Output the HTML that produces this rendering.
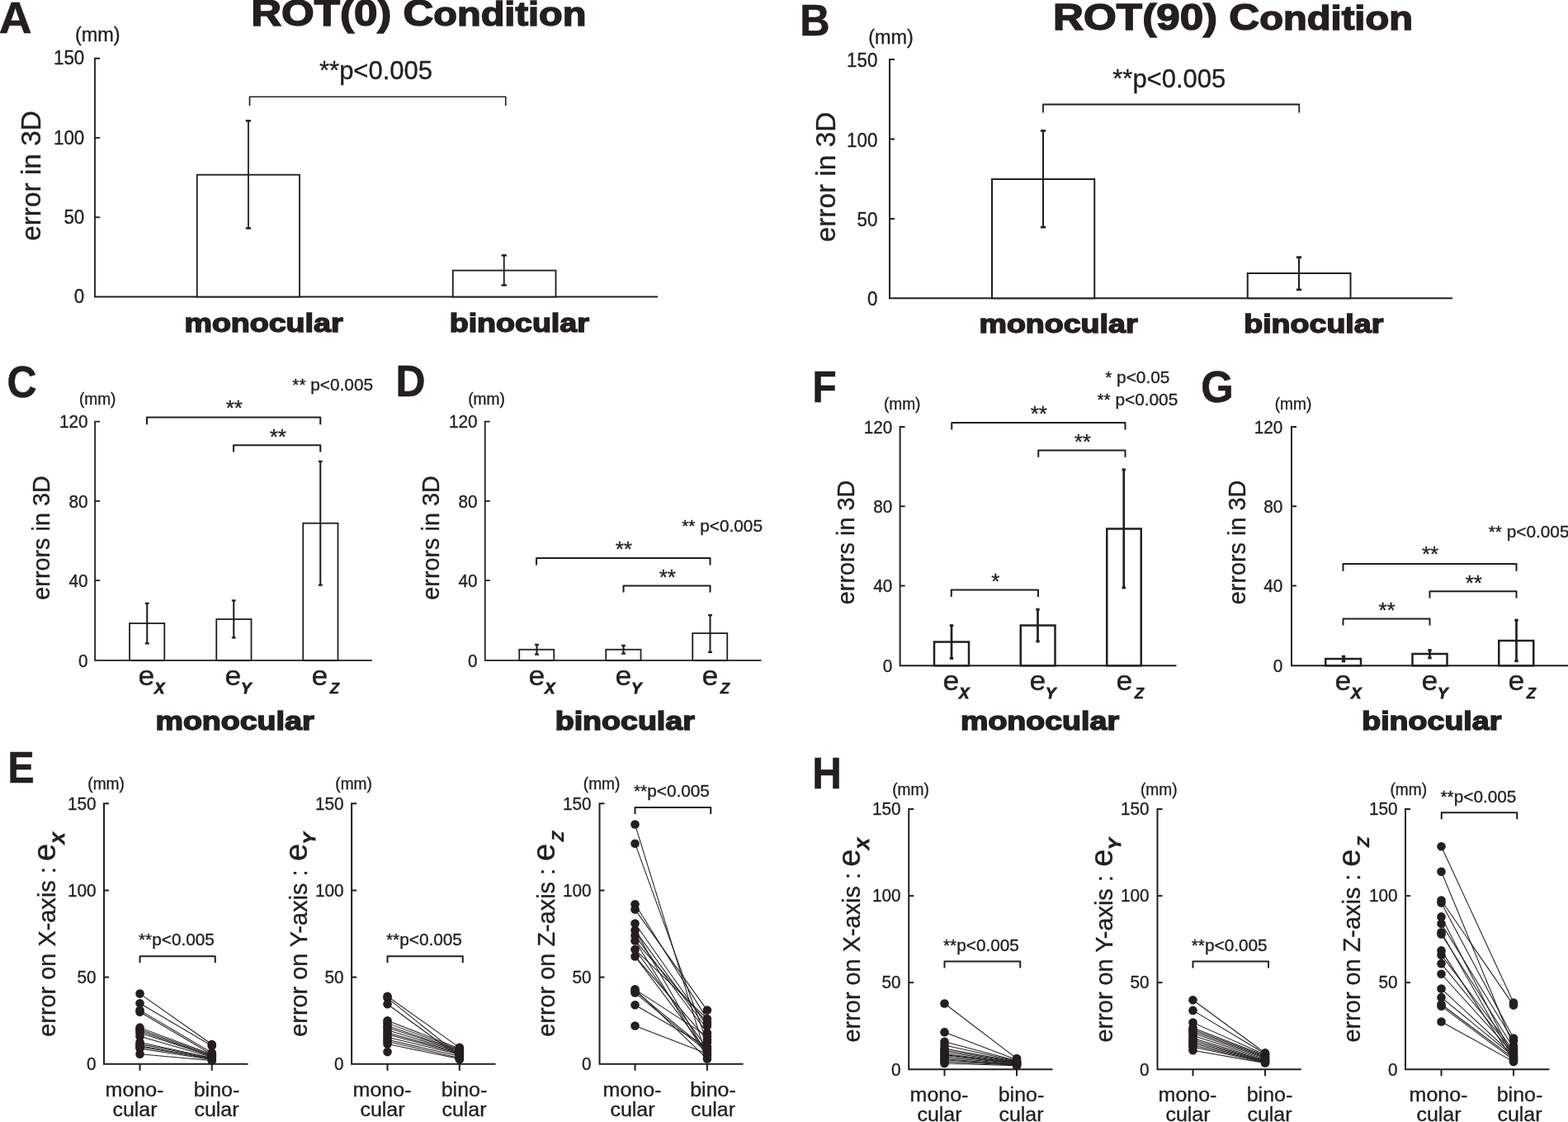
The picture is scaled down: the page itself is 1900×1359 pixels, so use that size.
<!DOCTYPE html>
<html lang="en">
<head>
<meta charset="utf-8">
<title>Figure</title>
<style>
html,body{margin:0;padding:0;background:#fff;}
body{width:1900px;height:1359px;overflow:hidden;}
svg{display:block;}
svg text{font-family:"Liberation Sans",sans-serif;fill:#231f20;stroke:#231f20;stroke-width:0.35px;}
svg .b{font-weight:bold;stroke-width:0.6px;}
svg .hv{font-weight:bold;stroke-width:1.5px;stroke-linejoin:miter;paint-order:stroke fill;}
svg line,svg path,svg rect{stroke:#231f20;stroke-linecap:butt;stroke-linejoin:miter;}
svg .sb{font-weight:bold;font-style:italic;}
svg .dot{fill:#231f20;stroke:none;}
</style>
</head>
<body>
<svg width="1900" height="1359" viewBox="0 0 1900 1359">
<path d="M121.00 70.75 L115.00 70.75 L115.00 359.50 L797.00 359.50" stroke-width="1.85" fill="none"/>
<line x1="115.00" y1="166.90" x2="121.00" y2="166.90" stroke-width="1.85"/>
<line x1="115.00" y1="263.20" x2="121.00" y2="263.20" stroke-width="1.85"/>
<text transform="translate(102.20 78.35) scale(0.95 1)" font-size="23.5" text-anchor="end">150</text>
<text transform="translate(102.20 174.50) scale(0.95 1)" font-size="23.5" text-anchor="end">100</text>
<text transform="translate(102.20 270.80) scale(0.95 1)" font-size="23.5" text-anchor="end">50</text>
<text transform="translate(102.20 367.10) scale(0.95 1)" font-size="23.5" text-anchor="end">0</text>
<rect x="238.75" y="211.70" width="124.25" height="147.80" fill="#fff" stroke-width="1.85"/>
<rect x="548.75" y="327.60" width="124.75" height="31.90" fill="#fff" stroke-width="1.85"/>
<line x1="300.90" y1="146.00" x2="300.90" y2="276.75" stroke-width="1.85"/>
<line x1="297.80" y1="146.32" x2="304.00" y2="146.32" stroke-width="2.4975000000000005"/>
<line x1="297.80" y1="276.43" x2="304.00" y2="276.43" stroke-width="2.4975000000000005"/>
<line x1="610.75" y1="309.00" x2="610.75" y2="345.75" stroke-width="1.85"/>
<line x1="607.65" y1="309.32" x2="613.85" y2="309.32" stroke-width="2.4975000000000005"/>
<line x1="607.65" y1="345.43" x2="613.85" y2="345.43" stroke-width="2.4975000000000005"/>
<path d="M302.50 128.00 L302.50 117.25 L612.75 117.25 L612.75 128.00" stroke-width="1.665" fill="none" style="stroke-linejoin:round"/>
<text transform="translate(387.00 96.25)" font-size="31">**p&lt;0.005</text>
<text transform="translate(223.50 401.60)" font-size="31" class="hv" textLength="192" lengthAdjust="spacingAndGlyphs">monocular</text>
<text transform="translate(544.75 401.60)" font-size="31" class="hv" textLength="169" lengthAdjust="spacingAndGlyphs">binocular</text>
<text transform="translate(91.00 49.60) scale(1.02 1)" font-size="23">(mm)</text>
<text transform="translate(49.00 213.00) rotate(-90)" font-size="33.4" text-anchor="middle">error in 3D</text>
<text transform="translate(-1.20 40.20) scale(1.04 1)" font-size="53" class="b">A</text>
<text transform="translate(304.20 30.60)" font-size="44.6" class="hv" textLength="406.2" lengthAdjust="spacingAndGlyphs">ROT(0) C<tspan font-size="41">ondition</tspan></text>
<path d="M1084.00 72.00 L1078.00 72.00 L1078.00 361.25 L1760.00 361.25" stroke-width="2.0" fill="none"/>
<line x1="1078.00" y1="168.50" x2="1084.00" y2="168.50" stroke-width="2.0"/>
<line x1="1078.00" y1="265.00" x2="1084.00" y2="265.00" stroke-width="2.0"/>
<text transform="translate(1063.30 81.20) scale(0.95 1)" font-size="23.5" text-anchor="end">150</text>
<text transform="translate(1063.30 177.70) scale(0.95 1)" font-size="23.5" text-anchor="end">100</text>
<text transform="translate(1063.30 274.20) scale(0.95 1)" font-size="23.5" text-anchor="end">50</text>
<text transform="translate(1063.30 370.45) scale(0.95 1)" font-size="23.5" text-anchor="end">0</text>
<rect x="1202.00" y="217.00" width="124.25" height="144.25" fill="#fff" stroke-width="2.0"/>
<rect x="1511.75" y="331.00" width="124.75" height="30.25" fill="#fff" stroke-width="2.0"/>
<line x1="1264.00" y1="158.00" x2="1264.00" y2="275.50" stroke-width="2.0"/>
<line x1="1260.90" y1="158.35" x2="1267.10" y2="158.35" stroke-width="2.7"/>
<line x1="1260.90" y1="275.15" x2="1267.10" y2="275.15" stroke-width="2.7"/>
<line x1="1574.00" y1="311.25" x2="1574.00" y2="351.25" stroke-width="2.0"/>
<line x1="1570.90" y1="311.60" x2="1577.10" y2="311.60" stroke-width="2.7"/>
<line x1="1570.90" y1="350.90" x2="1577.10" y2="350.90" stroke-width="2.7"/>
<path d="M1264.00 136.50 L1264.00 126.50 L1574.25 126.50 L1574.25 136.50" stroke-width="1.8" fill="none" style="stroke-linejoin:round"/>
<text transform="translate(1348.25 106.25)" font-size="31">**p&lt;0.005</text>
<text transform="translate(1186.50 402.85)" font-size="31" class="hv" textLength="192" lengthAdjust="spacingAndGlyphs">monocular</text>
<text transform="translate(1507.25 402.85)" font-size="31" class="hv" textLength="169" lengthAdjust="spacingAndGlyphs">binocular</text>
<text transform="translate(1052.20 52.50) scale(1.02 1)" font-size="23">(mm)</text>
<text transform="translate(1012.00 214.50) rotate(-90)" font-size="33.4" text-anchor="middle">error in 3D</text>
<text transform="translate(969.20 43.40) scale(0.95 1)" font-size="53" class="b">B</text>
<text transform="translate(1276.10 36.10)" font-size="44.6" class="hv" textLength="435.8" lengthAdjust="spacingAndGlyphs">ROT(90) C<tspan font-size="41">ondition</tspan></text>
<path d="M121.10 510.60 L115.10 510.60 L115.10 799.80 L450.75 799.80" stroke-width="1.8" fill="none"/>
<line x1="115.10" y1="606.90" x2="121.10" y2="606.90" stroke-width="1.8"/>
<line x1="115.10" y1="703.00" x2="121.10" y2="703.00" stroke-width="1.8"/>
<text transform="translate(106.60 518.30) scale(0.965 1)" font-size="21.5" text-anchor="end">120</text>
<text transform="translate(106.60 614.60) scale(0.965 1)" font-size="21.5" text-anchor="end">80</text>
<text transform="translate(106.60 710.70) scale(0.965 1)" font-size="21.5" text-anchor="end">40</text>
<text transform="translate(106.60 807.50) scale(0.965 1)" font-size="21.5" text-anchor="end">0</text>
<rect x="157.00" y="755.00" width="42.25" height="44.80" fill="#fff" stroke-width="1.8"/>
<rect x="262.25" y="750.00" width="42.25" height="49.80" fill="#fff" stroke-width="1.8"/>
<rect x="367.25" y="633.75" width="42.25" height="166.05" fill="#fff" stroke-width="1.8"/>
<line x1="178.25" y1="730.75" x2="178.25" y2="779.50" stroke-width="2.07"/>
<line x1="175.85" y1="730.85" x2="180.65" y2="730.85" stroke-width="2.277"/>
<line x1="175.85" y1="779.40" x2="180.65" y2="779.40" stroke-width="2.277"/>
<line x1="283.25" y1="727.25" x2="283.25" y2="772.50" stroke-width="2.07"/>
<line x1="280.85" y1="727.35" x2="285.65" y2="727.35" stroke-width="2.277"/>
<line x1="280.85" y1="772.40" x2="285.65" y2="772.40" stroke-width="2.277"/>
<line x1="388.25" y1="558.75" x2="388.25" y2="708.75" stroke-width="2.07"/>
<line x1="385.85" y1="558.85" x2="390.65" y2="558.85" stroke-width="2.277"/>
<line x1="385.85" y1="708.65" x2="390.65" y2="708.65" stroke-width="2.277"/>
<path d="M178.00 514.25 L178.00 505.50 L388.25 505.50 L388.25 514.25" stroke-width="2.07" fill="none" style="stroke-linejoin:round"/>
<path d="M283.00 547.50 L283.00 539.25 L388.25 539.25 L388.25 547.50" stroke-width="2.07" fill="none" style="stroke-linejoin:round"/>
<text transform="translate(283.75 502.70)" font-size="26" text-anchor="middle">**</text>
<text transform="translate(336.75 537.70)" font-size="26" text-anchor="middle">**</text>
<text transform="translate(354.30 473.20)" font-size="20.8">** p&lt;0.005</text>
<text transform="translate(167.50 830.00) scale(1.06 1)" font-size="33.6">e<tspan font-size="17.6" dy="9.8" dx="-0.3" class="sb" style="stroke-width:0.8px">X</tspan></text>
<text transform="translate(272.50 830.00) scale(1.06 1)" font-size="33.6">e<tspan font-size="17.6" dy="9.8" dx="-0.3" class="sb" style="stroke-width:0.8px">Y</tspan></text>
<text transform="translate(377.50 830.00) scale(1.06 1)" font-size="33.6">e<tspan font-size="17.6" dy="9.8" dx="2.2" class="sb" style="stroke-width:0.4px">Z</tspan></text>
<text transform="translate(188.50 884.10)" font-size="31" class="hv" textLength="192" lengthAdjust="spacingAndGlyphs">monocular</text>
<text transform="translate(95.90 489.60) scale(0.98 1)" font-size="19.5">(mm)</text>
<text transform="translate(59.50 651.50) rotate(-90) scale(0.96 1)" font-size="30" text-anchor="middle">errors in 3D</text>
<text transform="translate(8.60 481.20) scale(0.94 1)" font-size="53" class="b">C</text>
<path d="M593.75 510.60 L587.75 510.60 L587.75 799.80 L922.50 799.80" stroke-width="1.8" fill="none"/>
<line x1="587.75" y1="606.90" x2="593.75" y2="606.90" stroke-width="1.8"/>
<line x1="587.75" y1="703.00" x2="593.75" y2="703.00" stroke-width="1.8"/>
<text transform="translate(578.60 518.30) scale(0.965 1)" font-size="21.5" text-anchor="end">120</text>
<text transform="translate(578.60 614.60) scale(0.965 1)" font-size="21.5" text-anchor="end">80</text>
<text transform="translate(578.60 710.70) scale(0.965 1)" font-size="21.5" text-anchor="end">40</text>
<text transform="translate(578.60 807.50) scale(0.965 1)" font-size="21.5" text-anchor="end">0</text>
<rect x="629.25" y="786.75" width="42.00" height="13.05" fill="#fff" stroke-width="1.8"/>
<rect x="734.25" y="786.75" width="42.25" height="13.05" fill="#fff" stroke-width="1.8"/>
<rect x="839.25" y="767.00" width="42.00" height="32.80" fill="#fff" stroke-width="1.8"/>
<line x1="650.50" y1="780.75" x2="650.50" y2="792.75" stroke-width="2.07"/>
<line x1="648.10" y1="780.85" x2="652.90" y2="780.85" stroke-width="2.277"/>
<line x1="648.10" y1="792.65" x2="652.90" y2="792.65" stroke-width="2.277"/>
<line x1="755.50" y1="781.75" x2="755.50" y2="791.75" stroke-width="2.07"/>
<line x1="753.10" y1="781.85" x2="757.90" y2="781.85" stroke-width="2.277"/>
<line x1="753.10" y1="791.65" x2="757.90" y2="791.65" stroke-width="2.277"/>
<line x1="860.50" y1="745.00" x2="860.50" y2="790.00" stroke-width="2.07"/>
<line x1="858.10" y1="745.10" x2="862.90" y2="745.10" stroke-width="2.277"/>
<line x1="858.10" y1="789.90" x2="862.90" y2="789.90" stroke-width="2.277"/>
<path d="M650.00 684.50 L650.00 676.00 L860.50 676.00 L860.50 684.50" stroke-width="2.07" fill="none" style="stroke-linejoin:round"/>
<path d="M755.50 717.50 L755.50 709.50 L860.50 709.50 L860.50 717.50" stroke-width="2.07" fill="none" style="stroke-linejoin:round"/>
<text transform="translate(755.75 673.70)" font-size="26" text-anchor="middle">**</text>
<text transform="translate(808.75 707.70)" font-size="26" text-anchor="middle">**</text>
<text transform="translate(826.25 643.75)" font-size="20.8">** p&lt;0.005</text>
<text transform="translate(640.50 830.00) scale(1.06 1)" font-size="33.6">e<tspan font-size="17.6" dy="9.8" dx="-0.3" class="sb" style="stroke-width:0.8px">X</tspan></text>
<text transform="translate(745.50 830.00) scale(1.06 1)" font-size="33.6">e<tspan font-size="17.6" dy="9.8" dx="-0.3" class="sb" style="stroke-width:0.8px">Y</tspan></text>
<text transform="translate(850.50 830.00) scale(1.06 1)" font-size="33.6">e<tspan font-size="17.6" dy="9.8" dx="2.2" class="sb" style="stroke-width:0.4px">Z</tspan></text>
<text transform="translate(672.75 884.10)" font-size="31" class="hv" textLength="169" lengthAdjust="spacingAndGlyphs">binocular</text>
<text transform="translate(567.20 489.60) scale(0.98 1)" font-size="19.5">(mm)</text>
<text transform="translate(532.00 651.50) rotate(-90) scale(0.96 1)" font-size="30" text-anchor="middle">errors in 3D</text>
<text transform="translate(479.60 480.30) scale(0.94 1)" font-size="53" class="b">D</text>
<path d="M1096.60 517.00 L1090.60 517.00 L1090.60 806.25 L1425.50 806.25" stroke-width="1.95" fill="none"/>
<line x1="1090.60" y1="613.25" x2="1096.60" y2="613.25" stroke-width="1.95"/>
<line x1="1090.60" y1="709.50" x2="1096.60" y2="709.50" stroke-width="1.95"/>
<text transform="translate(1081.30 524.70) scale(0.965 1)" font-size="21.5" text-anchor="end">120</text>
<text transform="translate(1081.30 620.95) scale(0.965 1)" font-size="21.5" text-anchor="end">80</text>
<text transform="translate(1081.30 717.20) scale(0.965 1)" font-size="21.5" text-anchor="end">40</text>
<text transform="translate(1081.30 813.95) scale(0.965 1)" font-size="21.5" text-anchor="end">0</text>
<rect x="1132.00" y="777.50" width="42.00" height="28.75" fill="#fff" stroke-width="2.5"/>
<rect x="1236.75" y="757.50" width="41.75" height="48.75" fill="#fff" stroke-width="2.5"/>
<rect x="1341.25" y="640.50" width="41.50" height="165.75" fill="#fff" stroke-width="2.5"/>
<line x1="1153.00" y1="757.50" x2="1153.00" y2="797.50" stroke-width="2.7"/>
<line x1="1150.80" y1="757.63" x2="1155.20" y2="757.63" stroke-width="2.9700000000000006"/>
<line x1="1150.80" y1="797.37" x2="1155.20" y2="797.37" stroke-width="2.9700000000000006"/>
<line x1="1257.50" y1="738.00" x2="1257.50" y2="777.00" stroke-width="2.7"/>
<line x1="1255.30" y1="738.13" x2="1259.70" y2="738.13" stroke-width="2.9700000000000006"/>
<line x1="1255.30" y1="776.87" x2="1259.70" y2="776.87" stroke-width="2.9700000000000006"/>
<line x1="1361.75" y1="568.75" x2="1361.75" y2="712.00" stroke-width="2.7"/>
<line x1="1359.55" y1="568.88" x2="1363.95" y2="568.88" stroke-width="2.9700000000000006"/>
<line x1="1359.55" y1="711.87" x2="1363.95" y2="711.87" stroke-width="2.9700000000000006"/>
<path d="M1153.25 520.50 L1153.25 512.00 L1363.50 512.00 L1363.50 520.50" stroke-width="2.0" fill="none" style="stroke-linejoin:round"/>
<path d="M1258.25 553.75 L1258.25 545.50 L1363.50 545.50 L1363.50 553.75" stroke-width="2.0" fill="none" style="stroke-linejoin:round"/>
<path d="M1152.75 723.00 L1152.75 714.50 L1258.00 714.50 L1258.00 723.00" stroke-width="2.0" fill="none" style="stroke-linejoin:round"/>
<text transform="translate(1258.75 509.70)" font-size="26" text-anchor="middle">**</text>
<text transform="translate(1311.75 543.70)" font-size="26" text-anchor="middle">**</text>
<text transform="translate(1206.25 712.70)" font-size="26" text-anchor="middle">*</text>
<text transform="translate(1339.25 463.75)" font-size="20.8">* p&lt;0.05</text>
<text transform="translate(1329.50 490.75)" font-size="20.8">** p&lt;0.005</text>
<text transform="translate(1142.50 836.25) scale(1.06 1)" font-size="33.6">e<tspan font-size="17.6" dy="9.8" dx="-0.3" class="sb" style="stroke-width:0.8px">X</tspan></text>
<text transform="translate(1247.50 836.25) scale(1.06 1)" font-size="33.6">e<tspan font-size="17.6" dy="9.8" dx="-0.3" class="sb" style="stroke-width:0.8px">Y</tspan></text>
<text transform="translate(1352.50 836.25) scale(1.06 1)" font-size="33.6">e<tspan font-size="17.6" dy="9.8" dx="2.2" class="sb" style="stroke-width:0.4px">Z</tspan></text>
<text transform="translate(1164.00 884.10)" font-size="31" class="hv" textLength="192" lengthAdjust="spacingAndGlyphs">monocular</text>
<text transform="translate(1070.90 496.30) scale(0.98 1)" font-size="19.5">(mm)</text>
<text transform="translate(1034.50 657.00) rotate(-90) scale(0.96 1)" font-size="30" text-anchor="middle">errors in 3D</text>
<text transform="translate(984.60 487.00) scale(0.9 1)" font-size="53" class="b">F</text>
<path d="M1571.00 517.00 L1565.00 517.00 L1565.00 806.25 L1901.00 806.25" stroke-width="1.95" fill="none"/>
<line x1="1565.00" y1="613.25" x2="1571.00" y2="613.25" stroke-width="1.95"/>
<line x1="1565.00" y1="709.50" x2="1571.00" y2="709.50" stroke-width="1.95"/>
<text transform="translate(1554.40 524.70) scale(0.965 1)" font-size="21.5" text-anchor="end">120</text>
<text transform="translate(1554.40 620.95) scale(0.965 1)" font-size="21.5" text-anchor="end">80</text>
<text transform="translate(1554.40 717.20) scale(0.965 1)" font-size="21.5" text-anchor="end">40</text>
<text transform="translate(1554.40 813.95) scale(0.965 1)" font-size="21.5" text-anchor="end">0</text>
<rect x="1606.25" y="798.00" width="42.75" height="8.25" fill="#fff" stroke-width="2.5"/>
<rect x="1711.50" y="792.00" width="42.00" height="14.25" fill="#fff" stroke-width="2.5"/>
<rect x="1816.25" y="776.00" width="42.00" height="30.25" fill="#fff" stroke-width="2.5"/>
<line x1="1628.00" y1="795.00" x2="1628.00" y2="801.00" stroke-width="2.7"/>
<line x1="1625.80" y1="795.13" x2="1630.20" y2="795.13" stroke-width="2.9700000000000006"/>
<line x1="1625.80" y1="800.87" x2="1630.20" y2="800.87" stroke-width="2.9700000000000006"/>
<line x1="1732.50" y1="787.50" x2="1732.50" y2="797.00" stroke-width="2.7"/>
<line x1="1730.30" y1="787.63" x2="1734.70" y2="787.63" stroke-width="2.9700000000000006"/>
<line x1="1730.30" y1="796.87" x2="1734.70" y2="796.87" stroke-width="2.9700000000000006"/>
<line x1="1837.50" y1="751.00" x2="1837.50" y2="800.75" stroke-width="2.7"/>
<line x1="1835.30" y1="751.13" x2="1839.70" y2="751.13" stroke-width="2.9700000000000006"/>
<line x1="1835.30" y1="800.62" x2="1839.70" y2="800.62" stroke-width="2.9700000000000006"/>
<path d="M1627.50 691.85 L1627.50 683.10 L1837.50 683.10 L1837.50 691.85" stroke-width="2.0" fill="none" style="stroke-linejoin:round"/>
<path d="M1732.50 724.50 L1732.50 716.25 L1837.50 716.25 L1837.50 724.50" stroke-width="2.0" fill="none" style="stroke-linejoin:round"/>
<path d="M1627.50 757.50 L1627.50 749.50 L1732.50 749.50 L1732.50 757.50" stroke-width="2.0" fill="none" style="stroke-linejoin:round"/>
<text transform="translate(1733.00 679.70)" font-size="26" text-anchor="middle">**</text>
<text transform="translate(1785.75 714.70)" font-size="26" text-anchor="middle">**</text>
<text transform="translate(1680.50 747.70)" font-size="26" text-anchor="middle">**</text>
<text transform="translate(1803.75 650.75)" font-size="20.8">** p&lt;0.005</text>
<text transform="translate(1617.50 836.25) scale(1.06 1)" font-size="33.6">e<tspan font-size="17.6" dy="9.8" dx="-0.3" class="sb" style="stroke-width:0.8px">X</tspan></text>
<text transform="translate(1722.50 836.25) scale(1.06 1)" font-size="33.6">e<tspan font-size="17.6" dy="9.8" dx="-0.3" class="sb" style="stroke-width:0.8px">Y</tspan></text>
<text transform="translate(1827.50 836.25) scale(1.06 1)" font-size="33.6">e<tspan font-size="17.6" dy="9.8" dx="2.2" class="sb" style="stroke-width:0.4px">Z</tspan></text>
<text transform="translate(1650.25 884.10)" font-size="31" class="hv" textLength="169" lengthAdjust="spacingAndGlyphs">binocular</text>
<text transform="translate(1544.70 496.30) scale(0.98 1)" font-size="19.5">(mm)</text>
<text transform="translate(1509.00 657.00) rotate(-90) scale(0.96 1)" font-size="30" text-anchor="middle">errors in 3D</text>
<text transform="translate(1455.30 487.00) scale(0.96 1)" font-size="53" class="b">G</text>
<path d="M132.00 973.30 L126.00 973.30 L126.00 1288.80 L300.50 1288.80" stroke-width="2.0" fill="none"/>
<line x1="126.00" y1="1078.50" x2="132.00" y2="1078.50" stroke-width="2.0"/>
<line x1="126.00" y1="1183.60" x2="132.00" y2="1183.60" stroke-width="2.0"/>
<text transform="translate(116.50 980.60) scale(0.965 1)" font-size="21.5" text-anchor="end">150</text>
<text transform="translate(116.50 1085.80) scale(0.965 1)" font-size="21.5" text-anchor="end">100</text>
<text transform="translate(116.50 1190.90) scale(0.965 1)" font-size="21.5" text-anchor="end">50</text>
<text transform="translate(116.50 1296.10) scale(0.965 1)" font-size="21.5" text-anchor="end">0</text>
<line x1="169.50" y1="1288.80" x2="169.50" y2="1296.80" stroke-width="2.0"/>
<line x1="256.75" y1="1288.80" x2="256.75" y2="1296.80" stroke-width="2.0"/>
<line x1="169.50" y1="1203.62" x2="256.75" y2="1265.03" stroke-width="1.05"/>
<line x1="169.50" y1="1215.18" x2="256.75" y2="1266.71" stroke-width="1.05"/>
<line x1="169.50" y1="1223.60" x2="256.75" y2="1275.13" stroke-width="1.05"/>
<line x1="169.50" y1="1225.70" x2="256.75" y2="1277.23" stroke-width="1.05"/>
<line x1="169.50" y1="1244.63" x2="256.75" y2="1277.23" stroke-width="1.05"/>
<line x1="169.50" y1="1246.73" x2="256.75" y2="1278.28" stroke-width="1.05"/>
<line x1="169.50" y1="1248.84" x2="256.75" y2="1279.34" stroke-width="1.05"/>
<line x1="169.50" y1="1250.94" x2="256.75" y2="1279.34" stroke-width="1.05"/>
<line x1="169.50" y1="1255.15" x2="256.75" y2="1280.39" stroke-width="1.05"/>
<line x1="169.50" y1="1262.51" x2="256.75" y2="1281.44" stroke-width="1.05"/>
<line x1="169.50" y1="1264.61" x2="256.75" y2="1281.44" stroke-width="1.05"/>
<line x1="169.50" y1="1266.71" x2="256.75" y2="1282.49" stroke-width="1.05"/>
<line x1="169.50" y1="1267.77" x2="256.75" y2="1282.49" stroke-width="1.05"/>
<line x1="169.50" y1="1269.87" x2="256.75" y2="1283.54" stroke-width="1.05"/>
<line x1="169.50" y1="1276.81" x2="256.75" y2="1284.59" stroke-width="1.05"/>
<circle cx="169.50" cy="1203.62" r="5.3" class="dot"/>
<circle cx="169.50" cy="1215.18" r="5.3" class="dot"/>
<circle cx="169.50" cy="1223.60" r="5.3" class="dot"/>
<circle cx="169.50" cy="1225.70" r="5.3" class="dot"/>
<circle cx="169.50" cy="1244.63" r="5.3" class="dot"/>
<circle cx="169.50" cy="1246.73" r="5.3" class="dot"/>
<circle cx="169.50" cy="1248.84" r="5.3" class="dot"/>
<circle cx="169.50" cy="1250.94" r="5.3" class="dot"/>
<circle cx="169.50" cy="1255.15" r="5.3" class="dot"/>
<circle cx="169.50" cy="1262.51" r="5.3" class="dot"/>
<circle cx="169.50" cy="1264.61" r="5.3" class="dot"/>
<circle cx="169.50" cy="1266.71" r="5.3" class="dot"/>
<circle cx="169.50" cy="1267.77" r="5.3" class="dot"/>
<circle cx="169.50" cy="1269.87" r="5.3" class="dot"/>
<circle cx="169.50" cy="1276.81" r="5.3" class="dot"/>
<circle cx="256.75" cy="1265.03" r="5.3" class="dot"/>
<circle cx="256.75" cy="1266.71" r="5.3" class="dot"/>
<circle cx="256.75" cy="1275.13" r="5.3" class="dot"/>
<circle cx="256.75" cy="1277.23" r="5.3" class="dot"/>
<circle cx="256.75" cy="1277.23" r="5.3" class="dot"/>
<circle cx="256.75" cy="1278.28" r="5.3" class="dot"/>
<circle cx="256.75" cy="1279.34" r="5.3" class="dot"/>
<circle cx="256.75" cy="1280.39" r="5.3" class="dot"/>
<circle cx="256.75" cy="1279.34" r="5.3" class="dot"/>
<circle cx="256.75" cy="1281.44" r="5.3" class="dot"/>
<circle cx="256.75" cy="1281.44" r="5.3" class="dot"/>
<circle cx="256.75" cy="1282.49" r="5.3" class="dot"/>
<circle cx="256.75" cy="1282.49" r="5.3" class="dot"/>
<circle cx="256.75" cy="1283.54" r="5.3" class="dot"/>
<circle cx="256.75" cy="1284.59" r="5.3" class="dot"/>
<path d="M169.50 1166.25 L169.50 1158.25 L260.75 1158.25 L260.75 1166.25" stroke-width="2.0" fill="none" style="stroke-linejoin:round"/>
<text transform="translate(168.00 1145.20)" font-size="20.8">**p&lt;0.005</text>
<text transform="translate(106.30 955.60) scale(0.98 1)" font-size="19.5">(mm)</text>
<text transform="translate(66.90 1255.80) rotate(-90)" font-size="28.9">error on X-axis :</text>
<text transform="translate(66.60 1043.05) rotate(-90)" font-size="38.3">e</text>
<text transform="translate(77.90 1022.30) rotate(-90)" font-size="20.5" class="sb" style="stroke-width:0.9px">X</text>
<text transform="translate(163.00 1327.75) scale(1.02 1)" font-size="24.5" text-anchor="middle">mono-</text>
<text transform="translate(163.50 1351.50) scale(1.02 1)" font-size="24.5" text-anchor="middle">cular</text>
<text transform="translate(262.50 1327.75) scale(1.02 1)" font-size="24.5" text-anchor="middle">bino-</text>
<text transform="translate(262.50 1351.50) scale(1.02 1)" font-size="24.5" text-anchor="middle">cular</text>
<path d="M432.10 973.30 L426.10 973.30 L426.10 1288.80 L600.50 1288.80" stroke-width="2.0" fill="none"/>
<line x1="426.10" y1="1078.50" x2="432.10" y2="1078.50" stroke-width="2.0"/>
<line x1="426.10" y1="1183.60" x2="432.10" y2="1183.60" stroke-width="2.0"/>
<text transform="translate(416.50 980.60) scale(0.965 1)" font-size="21.5" text-anchor="end">150</text>
<text transform="translate(416.50 1085.80) scale(0.965 1)" font-size="21.5" text-anchor="end">100</text>
<text transform="translate(416.50 1190.90) scale(0.965 1)" font-size="21.5" text-anchor="end">50</text>
<text transform="translate(416.50 1296.10) scale(0.965 1)" font-size="21.5" text-anchor="end">0</text>
<line x1="469.50" y1="1288.80" x2="469.50" y2="1296.80" stroke-width="2.0"/>
<line x1="556.80" y1="1288.80" x2="556.80" y2="1296.80" stroke-width="2.0"/>
<line x1="469.50" y1="1206.77" x2="556.80" y2="1268.82" stroke-width="1.05"/>
<line x1="469.50" y1="1208.87" x2="556.80" y2="1278.28" stroke-width="1.05"/>
<line x1="469.50" y1="1216.23" x2="556.80" y2="1280.39" stroke-width="1.05"/>
<line x1="469.50" y1="1236.22" x2="556.80" y2="1269.87" stroke-width="1.05"/>
<line x1="469.50" y1="1239.37" x2="556.80" y2="1270.92" stroke-width="1.05"/>
<line x1="469.50" y1="1242.53" x2="556.80" y2="1271.97" stroke-width="1.05"/>
<line x1="469.50" y1="1244.63" x2="556.80" y2="1273.02" stroke-width="1.05"/>
<line x1="469.50" y1="1247.78" x2="556.80" y2="1274.08" stroke-width="1.05"/>
<line x1="469.50" y1="1250.94" x2="556.80" y2="1275.13" stroke-width="1.05"/>
<line x1="469.50" y1="1253.04" x2="556.80" y2="1276.18" stroke-width="1.05"/>
<line x1="469.50" y1="1256.20" x2="556.80" y2="1277.23" stroke-width="1.05"/>
<line x1="469.50" y1="1259.35" x2="556.80" y2="1279.34" stroke-width="1.05"/>
<line x1="469.50" y1="1261.46" x2="556.80" y2="1281.44" stroke-width="1.05"/>
<line x1="469.50" y1="1264.61" x2="556.80" y2="1282.49" stroke-width="1.05"/>
<circle cx="469.50" cy="1206.77" r="5.3" class="dot"/>
<circle cx="469.50" cy="1208.87" r="5.3" class="dot"/>
<circle cx="469.50" cy="1216.23" r="5.3" class="dot"/>
<circle cx="469.50" cy="1236.22" r="5.3" class="dot"/>
<circle cx="469.50" cy="1239.37" r="5.3" class="dot"/>
<circle cx="469.50" cy="1242.53" r="5.3" class="dot"/>
<circle cx="469.50" cy="1244.63" r="5.3" class="dot"/>
<circle cx="469.50" cy="1247.78" r="5.3" class="dot"/>
<circle cx="469.50" cy="1250.94" r="5.3" class="dot"/>
<circle cx="469.50" cy="1253.04" r="5.3" class="dot"/>
<circle cx="469.50" cy="1256.20" r="5.3" class="dot"/>
<circle cx="469.50" cy="1259.35" r="5.3" class="dot"/>
<circle cx="469.50" cy="1261.46" r="5.3" class="dot"/>
<circle cx="469.50" cy="1264.61" r="5.3" class="dot"/>
<circle cx="469.50" cy="1274.08" r="5.3" class="dot"/>
<circle cx="556.80" cy="1268.82" r="5.3" class="dot"/>
<circle cx="556.80" cy="1278.28" r="5.3" class="dot"/>
<circle cx="556.80" cy="1280.39" r="5.3" class="dot"/>
<circle cx="556.80" cy="1269.87" r="5.3" class="dot"/>
<circle cx="556.80" cy="1270.92" r="5.3" class="dot"/>
<circle cx="556.80" cy="1271.97" r="5.3" class="dot"/>
<circle cx="556.80" cy="1273.02" r="5.3" class="dot"/>
<circle cx="556.80" cy="1274.08" r="5.3" class="dot"/>
<circle cx="556.80" cy="1275.13" r="5.3" class="dot"/>
<circle cx="556.80" cy="1276.18" r="5.3" class="dot"/>
<circle cx="556.80" cy="1277.23" r="5.3" class="dot"/>
<circle cx="556.80" cy="1279.34" r="5.3" class="dot"/>
<circle cx="556.80" cy="1281.44" r="5.3" class="dot"/>
<circle cx="556.80" cy="1282.49" r="5.3" class="dot"/>
<circle cx="556.80" cy="1283.12" r="5.3" class="dot"/>
<path d="M469.50 1166.25 L469.50 1158.25 L560.75 1158.25 L560.75 1166.25" stroke-width="2.0" fill="none" style="stroke-linejoin:round"/>
<text transform="translate(468.00 1145.20)" font-size="20.8">**p&lt;0.005</text>
<text transform="translate(406.30 955.60) scale(0.98 1)" font-size="19.5">(mm)</text>
<text transform="translate(371.90 1255.80) rotate(-90)" font-size="28.9">error on Y-axis :</text>
<text transform="translate(371.60 1043.05) rotate(-90)" font-size="38.3">e</text>
<text transform="translate(381.90 1022.30) rotate(-90)" font-size="20.5" class="sb" style="stroke-width:0.9px">Y</text>
<text transform="translate(463.00 1327.75) scale(1.02 1)" font-size="24.5" text-anchor="middle">mono-</text>
<text transform="translate(463.50 1351.50) scale(1.02 1)" font-size="24.5" text-anchor="middle">cular</text>
<text transform="translate(562.50 1327.75) scale(1.02 1)" font-size="24.5" text-anchor="middle">bino-</text>
<text transform="translate(562.50 1351.50) scale(1.02 1)" font-size="24.5" text-anchor="middle">cular</text>
<path d="M732.50 973.30 L726.50 973.30 L726.50 1288.80 L900.60 1288.80" stroke-width="2.0" fill="none"/>
<line x1="726.50" y1="1078.50" x2="732.50" y2="1078.50" stroke-width="2.0"/>
<line x1="726.50" y1="1183.60" x2="732.50" y2="1183.60" stroke-width="2.0"/>
<text transform="translate(716.50 980.60) scale(0.965 1)" font-size="21.5" text-anchor="end">150</text>
<text transform="translate(716.50 1085.80) scale(0.965 1)" font-size="21.5" text-anchor="end">100</text>
<text transform="translate(716.50 1190.90) scale(0.965 1)" font-size="21.5" text-anchor="end">50</text>
<text transform="translate(716.50 1296.10) scale(0.965 1)" font-size="21.5" text-anchor="end">0</text>
<line x1="769.50" y1="1288.80" x2="769.50" y2="1296.80" stroke-width="2.0"/>
<line x1="856.90" y1="1288.80" x2="856.90" y2="1296.80" stroke-width="2.0"/>
<line x1="769.50" y1="998.54" x2="856.90" y2="1282.49" stroke-width="1.05"/>
<line x1="769.50" y1="1021.68" x2="856.90" y2="1262.51" stroke-width="1.05"/>
<line x1="769.50" y1="1095.29" x2="856.90" y2="1234.11" stroke-width="1.05"/>
<line x1="769.50" y1="1101.60" x2="856.90" y2="1223.60" stroke-width="1.05"/>
<line x1="769.50" y1="1118.43" x2="856.90" y2="1242.53" stroke-width="1.05"/>
<line x1="769.50" y1="1126.84" x2="856.90" y2="1278.28" stroke-width="1.05"/>
<line x1="769.50" y1="1133.15" x2="856.90" y2="1250.94" stroke-width="1.05"/>
<line x1="769.50" y1="1139.46" x2="856.90" y2="1238.32" stroke-width="1.05"/>
<line x1="769.50" y1="1149.98" x2="856.90" y2="1269.87" stroke-width="1.05"/>
<line x1="769.50" y1="1158.39" x2="856.90" y2="1259.35" stroke-width="1.05"/>
<line x1="769.50" y1="1198.36" x2="856.90" y2="1255.15" stroke-width="1.05"/>
<line x1="769.50" y1="1200.46" x2="856.90" y2="1271.97" stroke-width="1.05"/>
<line x1="769.50" y1="1202.56" x2="856.90" y2="1274.08" stroke-width="1.05"/>
<line x1="769.50" y1="1217.29" x2="856.90" y2="1267.77" stroke-width="1.05"/>
<line x1="769.50" y1="1242.53" x2="856.90" y2="1276.18" stroke-width="1.05"/>
<line x1="769.50" y1="1126.84" x2="856.90" y2="1246.73" stroke-width="1.05"/>
<line x1="769.50" y1="1139.46" x2="856.90" y2="1280.39" stroke-width="1.05"/>
<line x1="769.50" y1="1149.98" x2="856.90" y2="1234.11" stroke-width="1.05"/>
<line x1="769.50" y1="1158.39" x2="856.90" y2="1274.08" stroke-width="1.05"/>
<line x1="769.50" y1="1198.36" x2="856.90" y2="1282.49" stroke-width="1.05"/>
<circle cx="769.50" cy="998.54" r="5.3" class="dot"/>
<circle cx="769.50" cy="1021.68" r="5.3" class="dot"/>
<circle cx="769.50" cy="1095.29" r="5.3" class="dot"/>
<circle cx="769.50" cy="1101.60" r="5.3" class="dot"/>
<circle cx="769.50" cy="1118.43" r="5.3" class="dot"/>
<circle cx="769.50" cy="1126.84" r="5.3" class="dot"/>
<circle cx="769.50" cy="1133.15" r="5.3" class="dot"/>
<circle cx="769.50" cy="1139.46" r="5.3" class="dot"/>
<circle cx="769.50" cy="1149.98" r="5.3" class="dot"/>
<circle cx="769.50" cy="1158.39" r="5.3" class="dot"/>
<circle cx="769.50" cy="1198.36" r="5.3" class="dot"/>
<circle cx="769.50" cy="1200.46" r="5.3" class="dot"/>
<circle cx="769.50" cy="1202.56" r="5.3" class="dot"/>
<circle cx="769.50" cy="1217.29" r="5.3" class="dot"/>
<circle cx="769.50" cy="1242.53" r="5.3" class="dot"/>
<circle cx="856.90" cy="1282.49" r="5.3" class="dot"/>
<circle cx="856.90" cy="1262.51" r="5.3" class="dot"/>
<circle cx="856.90" cy="1234.11" r="5.3" class="dot"/>
<circle cx="856.90" cy="1223.60" r="5.3" class="dot"/>
<circle cx="856.90" cy="1242.53" r="5.3" class="dot"/>
<circle cx="856.90" cy="1278.28" r="5.3" class="dot"/>
<circle cx="856.90" cy="1250.94" r="5.3" class="dot"/>
<circle cx="856.90" cy="1238.32" r="5.3" class="dot"/>
<circle cx="856.90" cy="1269.87" r="5.3" class="dot"/>
<circle cx="856.90" cy="1259.35" r="5.3" class="dot"/>
<circle cx="856.90" cy="1255.15" r="5.3" class="dot"/>
<circle cx="856.90" cy="1271.97" r="5.3" class="dot"/>
<circle cx="856.90" cy="1274.08" r="5.3" class="dot"/>
<circle cx="856.90" cy="1267.77" r="5.3" class="dot"/>
<circle cx="856.90" cy="1276.18" r="5.3" class="dot"/>
<path d="M769.50 986.00 L769.50 978.00 L861.25 978.00 L861.25 986.00" stroke-width="2.0" fill="none" style="stroke-linejoin:round"/>
<text transform="translate(768.00 965.00)" font-size="20.8">**p&lt;0.005</text>
<text transform="translate(706.80 955.60) scale(0.98 1)" font-size="19.5">(mm)</text>
<text transform="translate(671.90 1255.80) rotate(-90)" font-size="28.9">error on Z-axis :</text>
<text transform="translate(671.60 1043.05) rotate(-90)" font-size="38.3">e</text>
<text transform="translate(682.70 1019.30) rotate(-90)" font-size="20.5" class="sb" style="stroke-width:0.3px">Z</text>
<text transform="translate(766.00 1327.75) scale(1.02 1)" font-size="24.5" text-anchor="middle">mono-</text>
<text transform="translate(766.50 1351.50) scale(1.02 1)" font-size="24.5" text-anchor="middle">cular</text>
<text transform="translate(864.00 1327.75) scale(1.02 1)" font-size="24.5" text-anchor="middle">bino-</text>
<text transform="translate(864.00 1351.50) scale(1.02 1)" font-size="24.5" text-anchor="middle">cular</text>
<path d="M1107.25 980.10 L1101.25 980.10 L1101.25 1295.35 L1275.50 1295.35" stroke-width="2.0" fill="none"/>
<line x1="1101.25" y1="1085.10" x2="1107.25" y2="1085.10" stroke-width="2.0"/>
<line x1="1101.25" y1="1190.10" x2="1107.25" y2="1190.10" stroke-width="2.0"/>
<text transform="translate(1091.50 987.40) scale(0.965 1)" font-size="21.5" text-anchor="end">150</text>
<text transform="translate(1091.50 1092.40) scale(0.965 1)" font-size="21.5" text-anchor="end">100</text>
<text transform="translate(1091.50 1197.40) scale(0.965 1)" font-size="21.5" text-anchor="end">50</text>
<text transform="translate(1091.50 1302.65) scale(0.965 1)" font-size="21.5" text-anchor="end">0</text>
<line x1="1144.50" y1="1295.35" x2="1144.50" y2="1303.35" stroke-width="2.0"/>
<line x1="1232.00" y1="1295.35" x2="1232.00" y2="1303.35" stroke-width="2.0"/>
<line x1="1144.50" y1="1215.49" x2="1232.00" y2="1282.11" stroke-width="1.05"/>
<line x1="1144.50" y1="1250.16" x2="1232.00" y2="1283.79" stroke-width="1.05"/>
<line x1="1144.50" y1="1261.72" x2="1232.00" y2="1284.84" stroke-width="1.05"/>
<line x1="1144.50" y1="1265.93" x2="1232.00" y2="1285.26" stroke-width="1.05"/>
<line x1="1144.50" y1="1270.13" x2="1232.00" y2="1285.89" stroke-width="1.05"/>
<line x1="1144.50" y1="1272.23" x2="1232.00" y2="1286.52" stroke-width="1.05"/>
<line x1="1144.50" y1="1274.33" x2="1232.00" y2="1286.94" stroke-width="1.05"/>
<line x1="1144.50" y1="1276.43" x2="1232.00" y2="1287.36" stroke-width="1.05"/>
<line x1="1144.50" y1="1277.49" x2="1232.00" y2="1287.99" stroke-width="1.05"/>
<line x1="1144.50" y1="1278.54" x2="1232.00" y2="1288.41" stroke-width="1.05"/>
<line x1="1144.50" y1="1280.64" x2="1232.00" y2="1289.04" stroke-width="1.05"/>
<line x1="1144.50" y1="1282.74" x2="1232.00" y2="1289.47" stroke-width="1.05"/>
<line x1="1144.50" y1="1283.79" x2="1232.00" y2="1289.89" stroke-width="1.05"/>
<line x1="1144.50" y1="1285.89" x2="1232.00" y2="1290.31" stroke-width="1.05"/>
<line x1="1144.50" y1="1287.99" x2="1232.00" y2="1290.73" stroke-width="1.05"/>
<circle cx="1144.50" cy="1215.49" r="5.3" class="dot"/>
<circle cx="1144.50" cy="1250.16" r="5.3" class="dot"/>
<circle cx="1144.50" cy="1261.72" r="5.3" class="dot"/>
<circle cx="1144.50" cy="1265.93" r="5.3" class="dot"/>
<circle cx="1144.50" cy="1270.13" r="5.3" class="dot"/>
<circle cx="1144.50" cy="1272.23" r="5.3" class="dot"/>
<circle cx="1144.50" cy="1274.33" r="5.3" class="dot"/>
<circle cx="1144.50" cy="1276.43" r="5.3" class="dot"/>
<circle cx="1144.50" cy="1277.49" r="5.3" class="dot"/>
<circle cx="1144.50" cy="1278.54" r="5.3" class="dot"/>
<circle cx="1144.50" cy="1280.64" r="5.3" class="dot"/>
<circle cx="1144.50" cy="1282.74" r="5.3" class="dot"/>
<circle cx="1144.50" cy="1283.79" r="5.3" class="dot"/>
<circle cx="1144.50" cy="1285.89" r="5.3" class="dot"/>
<circle cx="1144.50" cy="1287.99" r="5.3" class="dot"/>
<circle cx="1232.00" cy="1282.11" r="5.3" class="dot"/>
<circle cx="1232.00" cy="1283.79" r="5.3" class="dot"/>
<circle cx="1232.00" cy="1284.84" r="5.3" class="dot"/>
<circle cx="1232.00" cy="1285.26" r="5.3" class="dot"/>
<circle cx="1232.00" cy="1285.89" r="5.3" class="dot"/>
<circle cx="1232.00" cy="1286.52" r="5.3" class="dot"/>
<circle cx="1232.00" cy="1286.94" r="5.3" class="dot"/>
<circle cx="1232.00" cy="1287.36" r="5.3" class="dot"/>
<circle cx="1232.00" cy="1287.99" r="5.3" class="dot"/>
<circle cx="1232.00" cy="1288.41" r="5.3" class="dot"/>
<circle cx="1232.00" cy="1289.04" r="5.3" class="dot"/>
<circle cx="1232.00" cy="1289.47" r="5.3" class="dot"/>
<circle cx="1232.00" cy="1289.89" r="5.3" class="dot"/>
<circle cx="1232.00" cy="1290.31" r="5.3" class="dot"/>
<circle cx="1232.00" cy="1290.73" r="5.3" class="dot"/>
<path d="M1144.50 1172.50 L1144.50 1164.50 L1236.25 1164.50 L1236.25 1172.50" stroke-width="2.0" fill="none" style="stroke-linejoin:round"/>
<text transform="translate(1143.00 1151.50)" font-size="20.8">**p&lt;0.005</text>
<text transform="translate(1081.20 962.60) scale(0.98 1)" font-size="19.5">(mm)</text>
<text transform="translate(1041.90 1262.50) rotate(-90)" font-size="28.9">error on X-axis :</text>
<text transform="translate(1041.60 1049.75) rotate(-90)" font-size="38.3">e</text>
<text transform="translate(1052.90 1029.00) rotate(-90)" font-size="20.5" class="sb" style="stroke-width:0.9px">X</text>
<text transform="translate(1138.00 1334.00) scale(1.02 1)" font-size="24.5" text-anchor="middle">mono-</text>
<text transform="translate(1138.50 1357.75) scale(1.02 1)" font-size="24.5" text-anchor="middle">cular</text>
<text transform="translate(1237.50 1334.00) scale(1.02 1)" font-size="24.5" text-anchor="middle">bino-</text>
<text transform="translate(1237.50 1357.75) scale(1.02 1)" font-size="24.5" text-anchor="middle">cular</text>
<path d="M1408.50 980.10 L1402.50 980.10 L1402.50 1295.35 L1576.75 1295.35" stroke-width="2.0" fill="none"/>
<line x1="1402.50" y1="1085.10" x2="1408.50" y2="1085.10" stroke-width="2.0"/>
<line x1="1402.50" y1="1190.10" x2="1408.50" y2="1190.10" stroke-width="2.0"/>
<text transform="translate(1392.50 987.40) scale(0.965 1)" font-size="21.5" text-anchor="end">150</text>
<text transform="translate(1392.50 1092.40) scale(0.965 1)" font-size="21.5" text-anchor="end">100</text>
<text transform="translate(1392.50 1197.40) scale(0.965 1)" font-size="21.5" text-anchor="end">50</text>
<text transform="translate(1392.50 1302.65) scale(0.965 1)" font-size="21.5" text-anchor="end">0</text>
<line x1="1445.50" y1="1295.35" x2="1445.50" y2="1303.35" stroke-width="2.0"/>
<line x1="1533.00" y1="1295.35" x2="1533.00" y2="1303.35" stroke-width="2.0"/>
<line x1="1445.50" y1="1211.28" x2="1533.00" y2="1275.38" stroke-width="1.05"/>
<line x1="1445.50" y1="1223.89" x2="1533.00" y2="1276.43" stroke-width="1.05"/>
<line x1="1445.50" y1="1238.61" x2="1533.00" y2="1277.49" stroke-width="1.05"/>
<line x1="1445.50" y1="1244.91" x2="1533.00" y2="1278.54" stroke-width="1.05"/>
<line x1="1445.50" y1="1247.01" x2="1533.00" y2="1279.59" stroke-width="1.05"/>
<line x1="1445.50" y1="1249.11" x2="1533.00" y2="1280.64" stroke-width="1.05"/>
<line x1="1445.50" y1="1251.21" x2="1533.00" y2="1281.69" stroke-width="1.05"/>
<line x1="1445.50" y1="1254.37" x2="1533.00" y2="1282.74" stroke-width="1.05"/>
<line x1="1445.50" y1="1257.52" x2="1533.00" y2="1283.79" stroke-width="1.05"/>
<line x1="1445.50" y1="1259.62" x2="1533.00" y2="1284.84" stroke-width="1.05"/>
<line x1="1445.50" y1="1261.72" x2="1533.00" y2="1285.26" stroke-width="1.05"/>
<line x1="1445.50" y1="1263.82" x2="1533.00" y2="1285.89" stroke-width="1.05"/>
<line x1="1445.50" y1="1265.93" x2="1533.00" y2="1286.52" stroke-width="1.05"/>
<line x1="1445.50" y1="1268.03" x2="1533.00" y2="1286.94" stroke-width="1.05"/>
<line x1="1445.50" y1="1272.23" x2="1533.00" y2="1287.57" stroke-width="1.05"/>
<circle cx="1445.50" cy="1211.28" r="5.3" class="dot"/>
<circle cx="1445.50" cy="1223.89" r="5.3" class="dot"/>
<circle cx="1445.50" cy="1238.61" r="5.3" class="dot"/>
<circle cx="1445.50" cy="1244.91" r="5.3" class="dot"/>
<circle cx="1445.50" cy="1247.01" r="5.3" class="dot"/>
<circle cx="1445.50" cy="1249.11" r="5.3" class="dot"/>
<circle cx="1445.50" cy="1251.21" r="5.3" class="dot"/>
<circle cx="1445.50" cy="1254.37" r="5.3" class="dot"/>
<circle cx="1445.50" cy="1257.52" r="5.3" class="dot"/>
<circle cx="1445.50" cy="1259.62" r="5.3" class="dot"/>
<circle cx="1445.50" cy="1261.72" r="5.3" class="dot"/>
<circle cx="1445.50" cy="1263.82" r="5.3" class="dot"/>
<circle cx="1445.50" cy="1265.93" r="5.3" class="dot"/>
<circle cx="1445.50" cy="1268.03" r="5.3" class="dot"/>
<circle cx="1445.50" cy="1272.23" r="5.3" class="dot"/>
<circle cx="1533.00" cy="1275.38" r="5.3" class="dot"/>
<circle cx="1533.00" cy="1276.43" r="5.3" class="dot"/>
<circle cx="1533.00" cy="1277.49" r="5.3" class="dot"/>
<circle cx="1533.00" cy="1278.54" r="5.3" class="dot"/>
<circle cx="1533.00" cy="1279.59" r="5.3" class="dot"/>
<circle cx="1533.00" cy="1280.64" r="5.3" class="dot"/>
<circle cx="1533.00" cy="1281.69" r="5.3" class="dot"/>
<circle cx="1533.00" cy="1282.74" r="5.3" class="dot"/>
<circle cx="1533.00" cy="1283.79" r="5.3" class="dot"/>
<circle cx="1533.00" cy="1284.84" r="5.3" class="dot"/>
<circle cx="1533.00" cy="1285.26" r="5.3" class="dot"/>
<circle cx="1533.00" cy="1285.89" r="5.3" class="dot"/>
<circle cx="1533.00" cy="1286.52" r="5.3" class="dot"/>
<circle cx="1533.00" cy="1286.94" r="5.3" class="dot"/>
<circle cx="1533.00" cy="1287.57" r="5.3" class="dot"/>
<path d="M1445.50 1172.50 L1445.50 1164.50 L1537.00 1164.50 L1537.00 1172.50" stroke-width="2.0" fill="none" style="stroke-linejoin:round"/>
<text transform="translate(1443.75 1151.50)" font-size="20.8">**p&lt;0.005</text>
<text transform="translate(1382.00 962.60) scale(0.98 1)" font-size="19.5">(mm)</text>
<text transform="translate(1348.30 1262.50) rotate(-90)" font-size="28.9">error on Y-axis :</text>
<text transform="translate(1348.00 1049.75) rotate(-90)" font-size="38.3">e</text>
<text transform="translate(1358.30 1029.00) rotate(-90)" font-size="20.5" class="sb" style="stroke-width:0.9px">Y</text>
<text transform="translate(1439.00 1334.00) scale(1.02 1)" font-size="24.5" text-anchor="middle">mono-</text>
<text transform="translate(1439.50 1357.75) scale(1.02 1)" font-size="24.5" text-anchor="middle">cular</text>
<text transform="translate(1538.50 1334.00) scale(1.02 1)" font-size="24.5" text-anchor="middle">bino-</text>
<text transform="translate(1538.50 1357.75) scale(1.02 1)" font-size="24.5" text-anchor="middle">cular</text>
<path d="M1709.00 980.10 L1703.00 980.10 L1703.00 1295.35 L1877.50 1295.35" stroke-width="2.0" fill="none"/>
<line x1="1703.00" y1="1085.10" x2="1709.00" y2="1085.10" stroke-width="2.0"/>
<line x1="1703.00" y1="1190.10" x2="1709.00" y2="1190.10" stroke-width="2.0"/>
<text transform="translate(1693.50 987.40) scale(0.965 1)" font-size="21.5" text-anchor="end">150</text>
<text transform="translate(1693.50 1092.40) scale(0.965 1)" font-size="21.5" text-anchor="end">100</text>
<text transform="translate(1693.50 1197.40) scale(0.965 1)" font-size="21.5" text-anchor="end">50</text>
<text transform="translate(1693.50 1302.65) scale(0.965 1)" font-size="21.5" text-anchor="end">0</text>
<line x1="1746.50" y1="1295.35" x2="1746.50" y2="1303.35" stroke-width="2.0"/>
<line x1="1834.00" y1="1295.35" x2="1834.00" y2="1303.35" stroke-width="2.0"/>
<line x1="1746.50" y1="1025.29" x2="1834.00" y2="1214.44" stroke-width="1.05"/>
<line x1="1746.50" y1="1055.76" x2="1834.00" y2="1266.98" stroke-width="1.05"/>
<line x1="1746.50" y1="1090.44" x2="1834.00" y2="1217.59" stroke-width="1.05"/>
<line x1="1746.50" y1="1093.59" x2="1834.00" y2="1257.52" stroke-width="1.05"/>
<line x1="1746.50" y1="1110.40" x2="1834.00" y2="1280.64" stroke-width="1.05"/>
<line x1="1746.50" y1="1118.81" x2="1834.00" y2="1260.67" stroke-width="1.05"/>
<line x1="1746.50" y1="1129.32" x2="1834.00" y2="1282.74" stroke-width="1.05"/>
<line x1="1746.50" y1="1131.42" x2="1834.00" y2="1269.08" stroke-width="1.05"/>
<line x1="1746.50" y1="1151.39" x2="1834.00" y2="1284.84" stroke-width="1.05"/>
<line x1="1746.50" y1="1156.64" x2="1834.00" y2="1272.23" stroke-width="1.05"/>
<line x1="1746.50" y1="1167.15" x2="1834.00" y2="1274.33" stroke-width="1.05"/>
<line x1="1746.50" y1="1179.76" x2="1834.00" y2="1276.43" stroke-width="1.05"/>
<line x1="1746.50" y1="1197.62" x2="1834.00" y2="1278.54" stroke-width="1.05"/>
<line x1="1746.50" y1="1208.13" x2="1834.00" y2="1279.59" stroke-width="1.05"/>
<line x1="1746.50" y1="1216.54" x2="1834.00" y2="1281.69" stroke-width="1.05"/>
<line x1="1746.50" y1="1218.64" x2="1834.00" y2="1283.79" stroke-width="1.05"/>
<line x1="1746.50" y1="1237.55" x2="1834.00" y2="1285.89" stroke-width="1.05"/>
<circle cx="1746.50" cy="1025.29" r="5.3" class="dot"/>
<circle cx="1746.50" cy="1055.76" r="5.3" class="dot"/>
<circle cx="1746.50" cy="1090.44" r="5.3" class="dot"/>
<circle cx="1746.50" cy="1093.59" r="5.3" class="dot"/>
<circle cx="1746.50" cy="1110.40" r="5.3" class="dot"/>
<circle cx="1746.50" cy="1118.81" r="5.3" class="dot"/>
<circle cx="1746.50" cy="1129.32" r="5.3" class="dot"/>
<circle cx="1746.50" cy="1131.42" r="5.3" class="dot"/>
<circle cx="1746.50" cy="1151.39" r="5.3" class="dot"/>
<circle cx="1746.50" cy="1156.64" r="5.3" class="dot"/>
<circle cx="1746.50" cy="1167.15" r="5.3" class="dot"/>
<circle cx="1746.50" cy="1179.76" r="5.3" class="dot"/>
<circle cx="1746.50" cy="1197.62" r="5.3" class="dot"/>
<circle cx="1746.50" cy="1208.13" r="5.3" class="dot"/>
<circle cx="1746.50" cy="1216.54" r="5.3" class="dot"/>
<circle cx="1746.50" cy="1218.64" r="5.3" class="dot"/>
<circle cx="1746.50" cy="1237.55" r="5.3" class="dot"/>
<circle cx="1834.00" cy="1214.44" r="5.3" class="dot"/>
<circle cx="1834.00" cy="1266.98" r="5.3" class="dot"/>
<circle cx="1834.00" cy="1217.59" r="5.3" class="dot"/>
<circle cx="1834.00" cy="1257.52" r="5.3" class="dot"/>
<circle cx="1834.00" cy="1280.64" r="5.3" class="dot"/>
<circle cx="1834.00" cy="1260.67" r="5.3" class="dot"/>
<circle cx="1834.00" cy="1282.74" r="5.3" class="dot"/>
<circle cx="1834.00" cy="1269.08" r="5.3" class="dot"/>
<circle cx="1834.00" cy="1284.84" r="5.3" class="dot"/>
<circle cx="1834.00" cy="1272.23" r="5.3" class="dot"/>
<circle cx="1834.00" cy="1274.33" r="5.3" class="dot"/>
<circle cx="1834.00" cy="1276.43" r="5.3" class="dot"/>
<circle cx="1834.00" cy="1278.54" r="5.3" class="dot"/>
<circle cx="1834.00" cy="1279.59" r="5.3" class="dot"/>
<circle cx="1834.00" cy="1281.69" r="5.3" class="dot"/>
<circle cx="1834.00" cy="1283.79" r="5.3" class="dot"/>
<circle cx="1834.00" cy="1285.89" r="5.3" class="dot"/>
<path d="M1746.75 992.25 L1746.75 984.25 L1838.25 984.25 L1838.25 992.25" stroke-width="2.0" fill="none" style="stroke-linejoin:round"/>
<text transform="translate(1745.50 971.50)" font-size="20.8">**p&lt;0.005</text>
<text transform="translate(1684.50 962.60) scale(0.98 1)" font-size="19.5">(mm)</text>
<text transform="translate(1648.40 1262.50) rotate(-90)" font-size="28.9">error on Z-axis :</text>
<text transform="translate(1648.10 1049.75) rotate(-90)" font-size="38.3">e</text>
<text transform="translate(1659.20 1026.00) rotate(-90)" font-size="20.5" class="sb" style="stroke-width:0.3px">Z</text>
<text transform="translate(1743.00 1334.00) scale(1.02 1)" font-size="24.5" text-anchor="middle">mono-</text>
<text transform="translate(1743.50 1357.75) scale(1.02 1)" font-size="24.5" text-anchor="middle">cular</text>
<text transform="translate(1841.50 1334.00) scale(1.02 1)" font-size="24.5" text-anchor="middle">bino-</text>
<text transform="translate(1841.50 1357.75) scale(1.02 1)" font-size="24.5" text-anchor="middle">cular</text>
<text transform="translate(9.40 948.00) scale(0.91 1)" font-size="53" class="b">E</text>
<text transform="translate(984.20 954.50) scale(0.93 1)" font-size="53" class="b">H</text>
</svg>
</body>
</html>
